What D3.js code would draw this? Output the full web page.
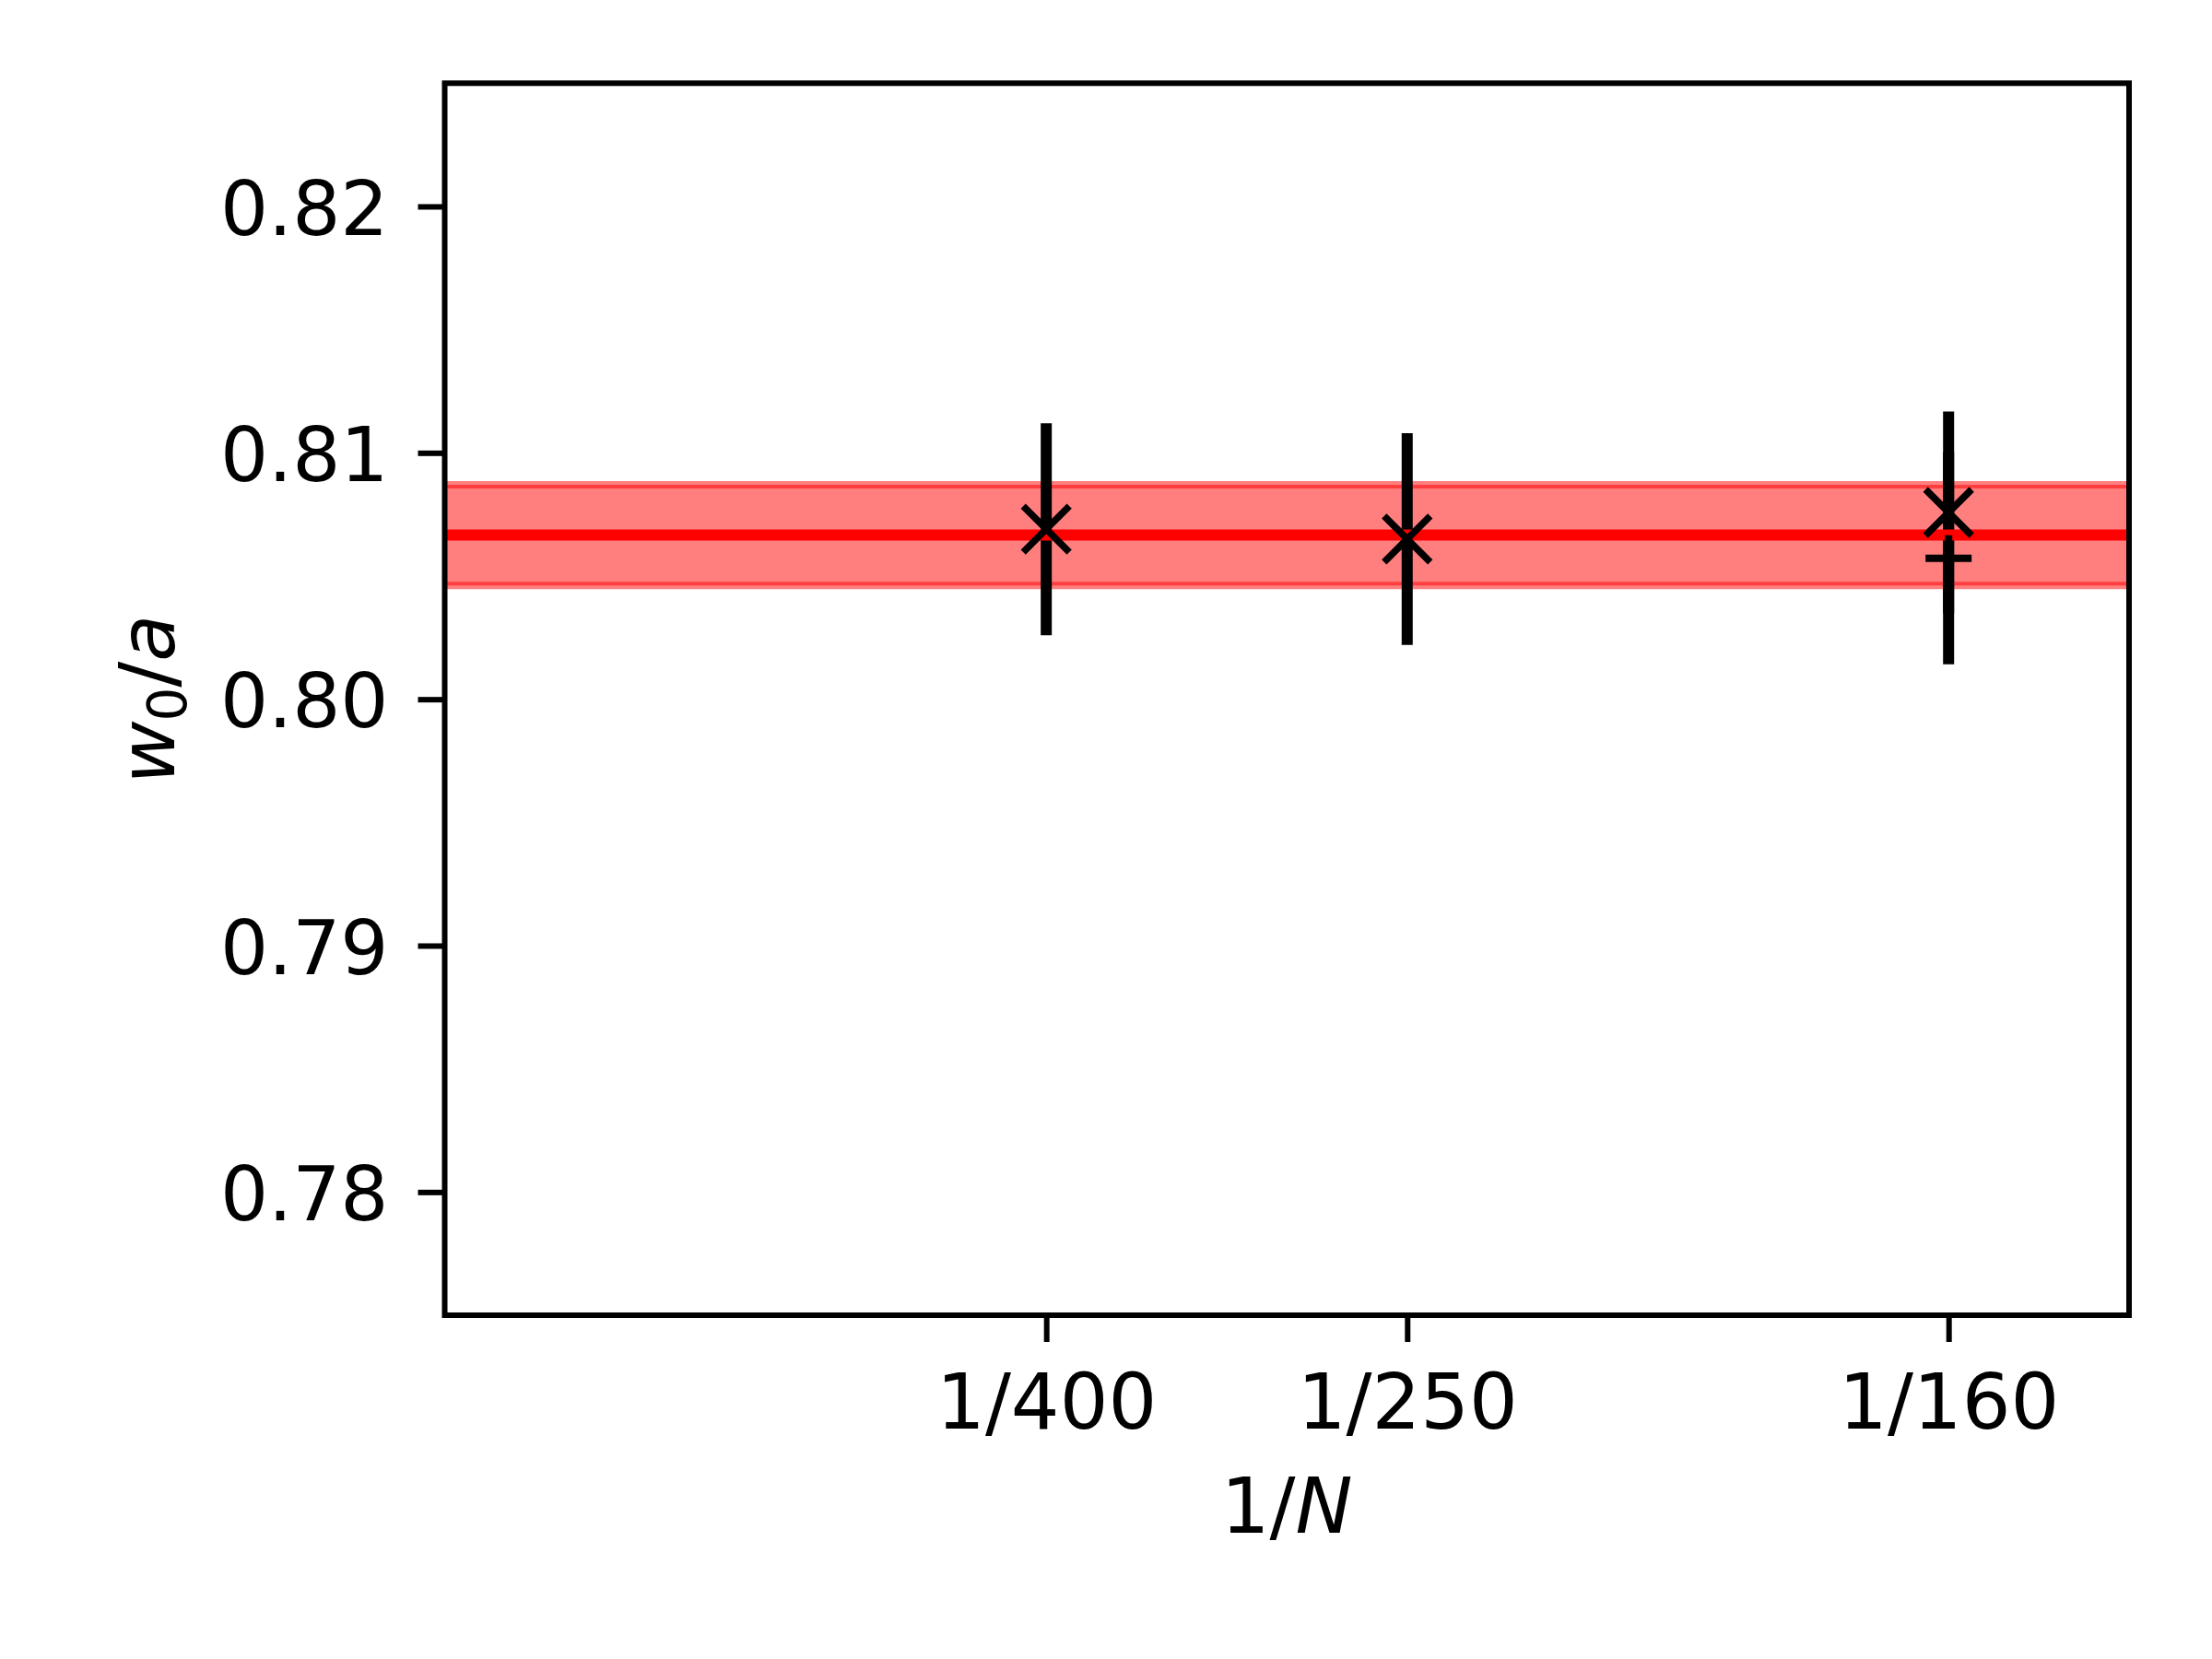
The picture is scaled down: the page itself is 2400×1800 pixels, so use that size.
<!DOCTYPE html>
<html>
<head>
<meta charset="utf-8">
<script src="https://cdn.jsdelivr.net/npm/d3@7"></script>
<style>
  body { margin: 0; background: #fff; }
  text { font-family: "DejaVu Sans", sans-serif; fill: #000; }
</style>
</head>
<body>
<svg id="chart" width="2400" height="1800"></svg>
<script>
// tick positions and labels on the 1/N axis
var xTickValues = [1 / 400, 1 / 250, 1 / 160];
var xTickLabels = ["1/400", "1/250", "1/160"];
var yTickValues = [0.78, 0.79, 0.80, 0.81, 0.82];

// data points drawn with an "x" marker
var invN = [1 / 400, 1 / 250, 1 / 160];
var w0 = [0.80690, 0.80650, 0.80758];
var w0Err = [0.0043, 0.0043, 0.0041];

// extra point drawn with a "+" marker
var invNPlus = [1 / 160];
var w0Plus = [0.80572];
var w0PlusErr = [0.0043];

// constant fit and its error band
var fitValue = 0.80666;
var fitErr = 0.00204;

var svg = d3.select("#chart"),
    margin = {top: 90.3, right: 90, bottom: 373, left: 482.5},
    width = 2400 - margin.left - margin.right,
    height = 1800 - margin.top - margin.bottom;

svg.append("rect").attr("width", 2400).attr("height", 1800).attr("fill", "#fff");

var g = svg.append("g").attr("transform", "translate(" + margin.left + "," + margin.top + ")");

var x = d3.scaleLinear().domain([0, 0.007]).range([0, width]);
var y = d3.scaleLinear().domain([0.775, 0.825]).range([height, 0]);

g.append("clipPath").attr("id", "clip")
  .append("rect").attr("width", width).attr("height", height);

var plot = g.append("g").attr("clip-path", "url(#clip)");

// error band of the fit
var band = d3.area()
  .x(function(d) { return x(d); })
  .y0(function() { return y(fitValue - fitErr); })
  .y1(function() { return y(fitValue + fitErr); });

plot.append("path")
  .datum([-0.001, 0.008])
  .attr("d", band)
  .attr("fill", "rgba(255,0,0,0.5)")
  .attr("stroke", "rgba(255,0,0,0.5)")
  .attr("stroke-width", 8);

// error bars
var bars = invN.map(function(v, i) { return {x: v, y: w0[i], e: w0Err[i]}; })
  .concat(invNPlus.map(function(v, i) { return {x: v, y: w0Plus[i], e: w0PlusErr[i]}; }));

plot.selectAll(".ebar")
  .data(bars)
  .enter().append("line")
  .attr("class", "ebar")
  .attr("x1", function(d) { return x(d.x); })
  .attr("x2", function(d) { return x(d.x); })
  .attr("y1", function(d) { return y(d.y - d.e); })
  .attr("y2", function(d) { return y(d.y + d.e); })
  .attr("stroke", "#000")
  .attr("stroke-width", 12);

// fit line
var line = d3.line()
  .x(function(d) { return x(d); })
  .y(function() { return y(fitValue); });

plot.append("path")
  .datum([-0.001, 0.008])
  .attr("d", line)
  .attr("stroke", "#ff0000")
  .attr("stroke-width", 12)
  .attr("fill", "none");

// markers
var ms = 25;
var crossPts = invN.map(function(v, i) { return {x: v, y: w0[i]}; });
var xm = plot.selectAll(".xm")
  .data(crossPts)
  .enter().append("g")
  .attr("class", "xm")
  .attr("transform", function(d) { return "translate(" + x(d.x) + "," + y(d.y) + ")"; });
xm.append("path")
  .attr("d", "M" + (-ms) + "," + (-ms) + "L" + ms + "," + ms + "M" + (-ms) + "," + ms + "L" + ms + "," + (-ms))
  .attr("stroke", "#000").attr("stroke-width", 7.5).attr("fill", "none");

var plusPts = invNPlus.map(function(v, i) { return {x: v, y: w0Plus[i]}; });
var pm = plot.selectAll(".pm")
  .data(plusPts)
  .enter().append("g")
  .attr("class", "pm")
  .attr("transform", function(d) { return "translate(" + x(d.x) + "," + y(d.y) + ")"; });
pm.append("path")
  .attr("d", "M" + (-ms) + ",0L" + ms + ",0M0," + (-ms) + "L0," + ms)
  .attr("stroke", "#000").attr("stroke-width", 8).attr("fill", "none");

// axes
var xAxis = d3.axisBottom(x)
  .tickValues(xTickValues)
  .tickFormat(function(d, i) { return xTickLabels[i]; })
  .tickSize(29).tickPadding(0);
var gx = g.append("g")
  .attr("transform", "translate(0," + height + ")")
  .call(xAxis);
gx.select(".domain").remove();
gx.selectAll(".tick line").attr("stroke", "#000").attr("stroke-width", 6);
gx.selectAll(".tick text")
  .attr("y", 123).attr("dy", null)
  .style("font-size", "83px");

var yAxis = d3.axisLeft(y)
  .tickValues(yTickValues)
  .tickFormat(d3.format(".2f"))
  .tickSize(29).tickPadding(0);
var gy = g.append("g").call(yAxis);
gy.select(".domain").remove();
gy.selectAll(".tick line").attr("stroke", "#000").attr("stroke-width", 6);
gy.selectAll(".tick text")
  .attr("x", -61).attr("dy", "0.37em")
  .style("font-size", "82px");

// frame
g.append("rect")
  .attr("width", width).attr("height", height)
  .attr("fill", "none").attr("stroke", "#000").attr("stroke-width", 6);

// axis labels
var xl = svg.append("text")
  .attr("x", margin.left + width / 2)
  .attr("y", 1663)
  .attr("text-anchor", "middle")
  .style("font-size", "83px");
xl.append("tspan").text("1/");
xl.append("tspan").style("font-style", "italic").text("N");

var yl = svg.append("text")
  .attr("transform", "translate(189," + (margin.top + height / 2) + ") rotate(-90)")
  .attr("text-anchor", "middle")
  .style("font-size", "83px");
yl.append("tspan").style("font-style", "italic").text("w");
yl.append("tspan").attr("dy", 13).style("font-size", "58px").text("0");
yl.append("tspan").attr("dy", -13).text("/");
yl.append("tspan").style("font-style", "italic").text("a");
</script>
</body>
</html>
